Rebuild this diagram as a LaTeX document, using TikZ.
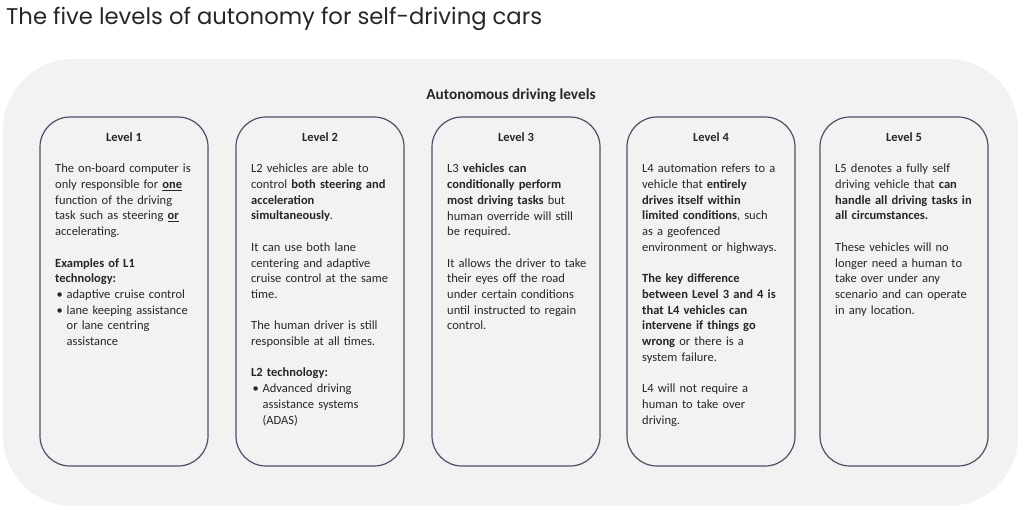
\documentclass[tikz,border=0pt]{standalone}
\usepackage{fontspec}
\setmainfont{Carlito}
\newfontfamily\poppins{Poppins}
\definecolor{bggray}{HTML}{F2F2F2}
\definecolor{boxline}{HTML}{4A5068}
\definecolor{txt}{HTML}{262626}
\newcommand{\nohy}{\hyphenpenalty=10000\relax\exhyphenpenalty=10000\relax}
\newcommand{\pgap}{\par\vspace{\baselineskip}}
\newcommand{\bitem}[1]{\par\noindent\makebox[11.5pt][l]{\hspace{1.5pt}\textbullet}\parbox[t]{140pt}{\raggedright\nohy #1}}
\tikzset{
  levelbox/.style={draw=boxline, line width=1.2pt, fill=bggray, rounded corners=30pt},
  boxtitle/.style={font=\fontsize{12.5}{15.7}\selectfont\bfseries, text=txt, anchor=base},
  boxtext/.style={font=\fontsize{12.5}{15.7}\selectfont\nohy, text=txt, anchor=north west, text width=152pt, align=left, inner sep=0pt}
}
\begin{document}
\begin{tikzpicture}[x=1pt,y=-1pt]
\useasboundingbox (0,0) rectangle (1024,509);
\node[anchor=base west, inner sep=0pt, font=\poppins\fontsize{22.7}{26}\selectfont, text=txt] (title) at (6,24) {The five levels of autonomy for self-driving cars};
\fill[bggray, rounded corners=70pt] (3,59) rectangle (1018,506);
\node[font=\fontsize{15.3}{18}\selectfont\bfseries, text=txt, anchor=base] (head) at (511,99) {Autonomous driving levels};
\foreach \i/\x in {1/40,2/236,3/432,4/627,5/820}{
  \draw[levelbox] (\x,117) rectangle ++(168,349);
  \node[boxtitle] (lt\i) at (\x+84,141) {Level \i};
}
\node[boxtext] (t1) at (55,164) {The on-board computer is\\ only responsible for \textbf{\underline{one}}\\ function of the driving\\ task such as steering \textbf{\underline{or}}\\ accelerating.\pgap
\textbf{Examples of L1}\\ \textbf{technology:}
\bitem{adaptive cruise control}
\bitem{lane keeping assistance\\ or lane centring\\ assistance}};
\node[boxtext] (t2) at (251,164) {L2 vehicles are able to\\ control \textbf{both steering and}\\ \textbf{acceleration}\\ \textbf{simultaneously}.\pgap
It can use both lane\\ centering and adaptive\\ cruise control at the same\\ time.\pgap
The human driver is still\\ responsible at all times.\pgap
\textbf{L2 technology:}
\bitem{Advanced driving\\ assistance systems\\ (ADAS)}};
\node[boxtext] (t3) at (447,164) {L3 \textbf{vehicles can}\\ \textbf{conditionally perform}\\ \textbf{most driving tasks} but\\ human override will still\\ be required.\pgap
It allows the driver to take\\ their eyes off the road\\ under certain conditions\\ until instructed to regain\\ control.};
\node[boxtext] (t4) at (642,164) {L4 automation refers to a\\ vehicle that \textbf{entirely}\\ \textbf{drives itself within}\\ \textbf{limited conditions}, such\\ as a geofenced\\ environment or highways.\pgap
\textbf{The key difference}\\ \textbf{between Level 3 and 4 is}\\ \textbf{that L4 vehicles can}\\ \textbf{intervene if things go}\\ \textbf{wrong} or there is a\\ system failure.\pgap
L4 will not require a\\ human to take over\\ driving.};
\node[boxtext] (t5) at (835,164) {L5 denotes a fully self\\ driving vehicle that \textbf{can}\\ \textbf{handle all driving tasks in}\\ \textbf{all circumstances.}\pgap
These vehicles will no\\ longer need a human to\\ take over under any\\ scenario and can operate\\ in any location.};
\end{tikzpicture}
\end{document}
